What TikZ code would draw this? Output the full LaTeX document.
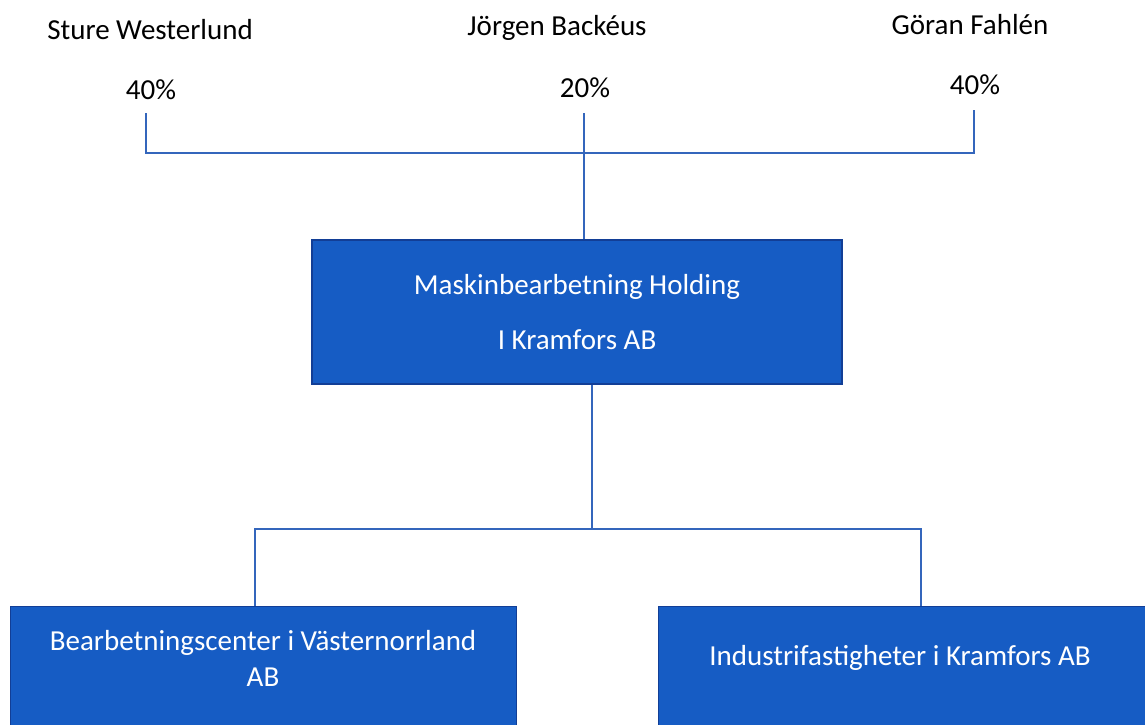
\documentclass[tikz,border=0pt]{standalone}
\usepackage{fontspec}
\setmainfont{Carlito}
\usetikzlibrary{positioning}
\definecolor{boxblue}{RGB}{22,92,196}
\definecolor{edgeblue}{RGB}{18,62,150}
\definecolor{lineblue}{RGB}{52,102,188}
\tikzset{
  owner/.style={font=\fontsize{29}{35}\selectfont, inner sep=0pt},
  company/.style={draw=edgeblue, line width=1.2pt, fill=boxblue, text=white,
    font=\fontsize{29}{35}\selectfont, align=center},
  boxtext/.style={text=white, font=\fontsize{29}{36}\selectfont, align=center, inner sep=0pt},
  link/.style={draw=lineblue, line width=1.5pt},
}
\begin{document}
\begin{tikzpicture}[x=1pt, y=-1pt]
    \path[use as bounding box, clip] (0,0) rectangle (1145,724);
    \fill[white] (0,0) rectangle (1145,724);

    % Owners:
    \node[owner] (sture) at (150,30) {Sture Westerlund};
    \node[owner] (jorgen) at (557,28) {Jörgen Backéus};
    \node[owner] (goran) at (970,25) {Göran Fahlén};
    \node[owner] (share1) at (151,90) {40\%};
    \node[owner] (share2) at (585,88) {20\%};
    \node[owner] (share3) at (975,85) {40\%};

    % Companies:
    \node[company, minimum width=530, minimum height=144] (holding) at (577,312)
        {Maskinbearbetning Holding\\[20pt]I Kramfors AB};
    \node[company, anchor=north west, minimum width=506, minimum height=140] (center) at (10,606) {};
    \node[company, anchor=north west, minimum width=500, minimum height=140] (fastighet) at (658,606) {};
    \node[boxtext] (centertext) at (263,658) {Bearbetningscenter i Västernorrland\\AB};
    \node[boxtext] (fastighettext) at (900,658) {Industrifastigheter i Kramfors AB};

    % Ownership lines:
    \coordinate (stem1) at (146,113);
    \coordinate (stem2) at (584,113);
    \coordinate (stem3) at (974,110);
    \coordinate (barl) at (146,153);
    \coordinate (barr) at (974,153);
    \draw[link] (stem1) -- (barl) -- (barr) -- (stem3);
    \draw[link] (stem2) -- (stem2 |- holding.north);

    % Subsidiaries:
    \coordinate (split) at (592,529);
    \coordinate (forkl) at (255,529);
    \coordinate (forkr) at (921,529);
    \draw[link] (holding.south -| split) -- (split);
    \draw[link] (center.north -| forkl) -- (forkl) -- (forkr) -- (fastighet.north -| forkr);
\end{tikzpicture}
\end{document}
